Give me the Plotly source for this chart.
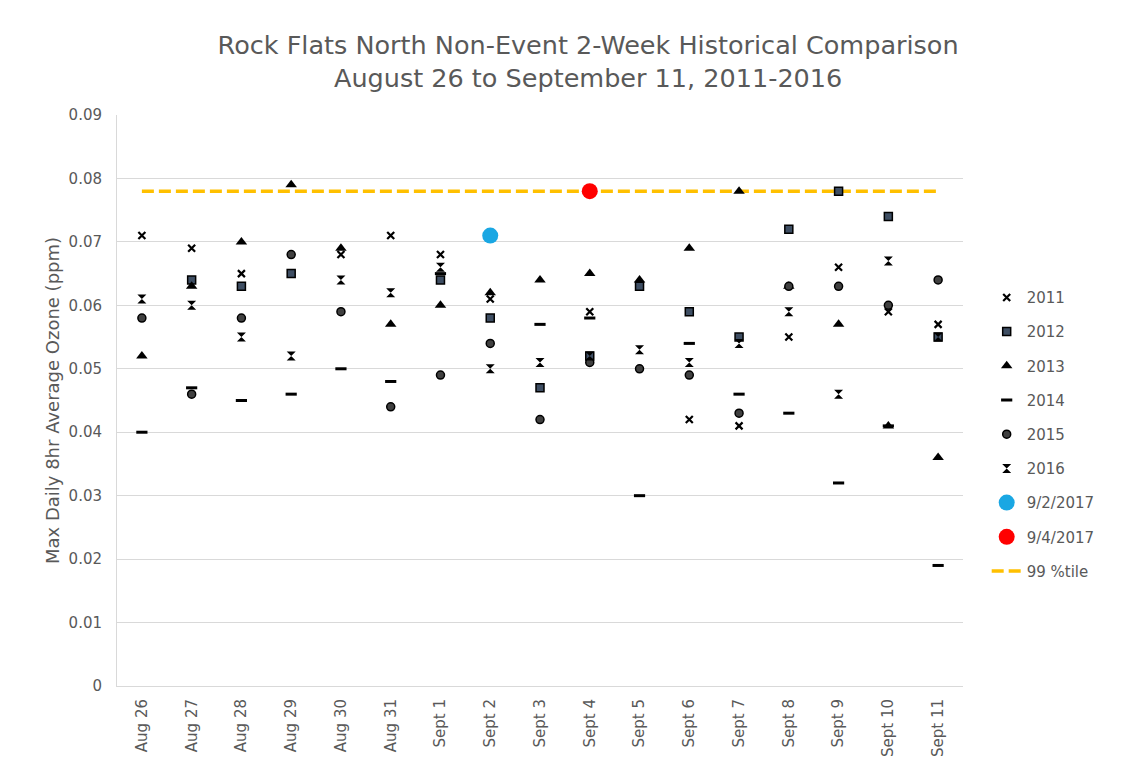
import plotly.graph_objects as go

# Category labels along the x axis
dates = ["Aug 26", "Aug 27", "Aug 28", "Aug 29", "Aug 30", "Aug 31",
         "Sept 1", "Sept 2", "Sept 3", "Sept 4", "Sept 5", "Sept 6",
         "Sept 7", "Sept 8", "Sept 9", "Sept 10", "Sept 11"]

# Max daily 8-hr average ozone (ppm) per year; None = no value
y2011 = [0.071, 0.069, 0.065, None, 0.068, 0.071, 0.068, 0.061, None, 0.059,
         None, 0.042, 0.041, 0.055, 0.066, 0.059, 0.057]
y2012 = [None, 0.064, 0.063, 0.065, None, None, 0.064, 0.058, 0.047, 0.052,
         0.063, 0.059, 0.055, 0.072, 0.078, 0.074, 0.055]
y2013 = [0.052, 0.063, 0.070, 0.079, 0.069, 0.057, 0.060, 0.062, 0.064, 0.065,
         0.064, 0.069, 0.078, 0.063, 0.057, 0.041, 0.036]
y2014 = [0.040, 0.047, 0.045, 0.046, 0.050, 0.048, 0.065, None, 0.057, 0.058,
         0.030, 0.054, 0.046, 0.043, 0.032, 0.041, 0.019]
y2015 = [0.058, 0.046, 0.058, 0.068, 0.059, 0.044, 0.049, 0.054, 0.042, 0.051,
         0.050, 0.049, 0.043, 0.063, 0.063, 0.060, 0.064]
y2016 = [0.061, 0.060, 0.055, 0.052, 0.064, 0.062, 0.066, 0.050, 0.051, 0.052,
         0.053, 0.051, 0.054, 0.059, 0.046, 0.067, 0.055]

# 2017 event days
event_0902_date = ["Sept 2"]
event_0902_value = [0.071]
event_0904_date = ["Sept 4"]
event_0904_value = [0.078]

# 99th percentile level
pct99 = 0.078

# Y axis ticks
y_tickvals = [0, 0.01, 0.02, 0.03, 0.04, 0.05, 0.06, 0.07, 0.08, 0.09]
y_ticktext = ["0", "0.01", "0.02", "0.03", "0.04", "0.05", "0.06", "0.07", "0.08", "0.09"]

GREY_TEXT = "#595959"
FONT = "DejaVu Sans"

fig = go.Figure()

# percentile line drawn first so markers sit on top
fig.add_trace(go.Scatter(
    x=dates, y=[pct99] * len(dates), mode="lines", name="99 %tile",
    line=dict(color="#FFC000", width=3.5, dash="12px,5px"),
    legendgroup="g9", legendrank=9,
))

year_series = [
    ("2011", y2011, dict(symbol="x-thin", size=7, color="black",
                         line=dict(color="black", width=2.2))),
    ("2012", y2012, dict(symbol="square", size=8, color="#3E4E63",
                         line=dict(color="black", width=1.5))),
    ("2013", y2013, dict(symbol="triangle-up", size=10, color="black",
                         line=dict(width=0))),
    ("2014", y2014, dict(symbol="line-ew", size=8, color="black",
                         line=dict(color="black", width=3))),
    ("2015", y2015, dict(symbol="circle", size=8, color="#404040",
                         line=dict(color="black", width=1.5))),
    ("2016", y2016, dict(symbol="hourglass", size=9, color="black",
                         line=dict(width=0))),
]
for rank, (name, vals, marker) in enumerate(year_series, start=1):
    fig.add_trace(go.Scatter(
        x=dates, y=vals, mode="markers", name=name, marker=marker,
        legendgroup=f"g{rank}", legendrank=rank,
    ))

fig.add_trace(go.Scatter(
    x=event_0902_date, y=event_0902_value, mode="markers", name="9/2/2017",
    marker=dict(symbol="circle", size=16, color="#1AA7E3", line=dict(width=0)),
    legendgroup="g7", legendrank=7,
))
fig.add_trace(go.Scatter(
    x=event_0904_date, y=event_0904_value, mode="markers", name="9/4/2017",
    marker=dict(symbol="circle", size=16, color="#FF0000", line=dict(width=0)),
    legendgroup="g8", legendrank=8,
))

fig.update_layout(
    width=1142, height=770,
    paper_bgcolor="white", plot_bgcolor="white",
    margin=dict(l=117, r=179, t=115, b=84),
    font=dict(family=FONT, color=GREY_TEXT, size=15),
    title=dict(
        text="Rock Flats North Non-Event 2-Week Historical Comparison<br>"
             "August 26 to September 11, 2011-2016",
        x=0.515, xanchor="center", y=0.93, yanchor="top",
        font=dict(family=FONT, size=25.5, color=GREY_TEXT),
    ),
    xaxis=dict(
        type="category", categoryorder="array", categoryarray=dates,
        range=[-0.5, len(dates) - 0.5],
        tickangle=-90, tickfont=dict(size=15, color=GREY_TEXT),
        showgrid=False, showline=True, linecolor="#D9D9D9", linewidth=1,
        ticks="", zeroline=False, ticklabelstandoff=6,
    ),
    yaxis=dict(
        range=[0, 0.09], tickvals=y_tickvals, ticktext=y_ticktext,
        tickfont=dict(size=15, color=GREY_TEXT),
        showgrid=True, gridcolor="#D9D9D9", gridwidth=1,
        showline=True, linecolor="#D9D9D9", linewidth=1,
        zeroline=False, ticks="", ticklabelstandoff=11,
        title=dict(text="Max Daily 8hr Average Ozone (ppm)",
                   font=dict(size=18, color=GREY_TEXT), standoff=4),
    ),
    legend=dict(
        x=1.028, xanchor="left", y=0.709, yanchor="top",
        font=dict(size=15, color=GREY_TEXT),
        traceorder="grouped", tracegroupgap=11.7,
        bgcolor="rgba(0,0,0,0)",
    ),
    showlegend=True,
)

fig.write_html("out.html")
